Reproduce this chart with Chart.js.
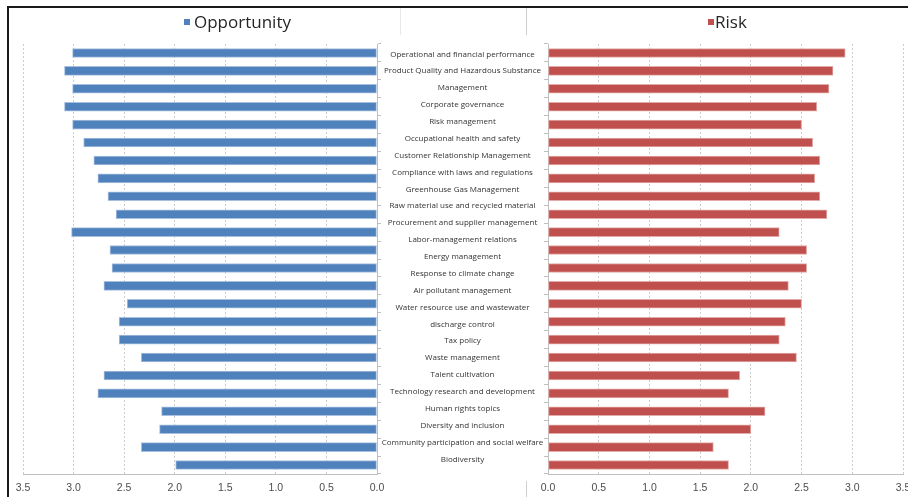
<!DOCTYPE html>
<html>
<head>
<meta charset="utf-8">
<script src="https://cdn.jsdelivr.net/npm/chart.js@4/dist/chart.umd.min.js"></script>
<style>
html,body{margin:0;padding:0;width:908px;height:497px;overflow:hidden;background:#fff;}
#wrap{position:relative;width:908px;height:497px;overflow:hidden;}
.abs{position:absolute;}
#cL{position:absolute;left:0;top:0;}
#cR{position:absolute;left:527px;top:0;}
.title{position:absolute;top:12px;font-family:"Open Sans","Noto Sans",sans-serif;font-size:17px;line-height:20px;color:#262626;white-space:nowrap;}
.sq{position:absolute;top:19px;width:6px;height:6px;}
#mid{position:absolute;left:380px;width:165px;top:45.6px;font-family:"Open Sans","Noto Sans",sans-serif;font-size:8px;color:#333;text-align:center;}
#mid div{height:16.875px;line-height:16.875px;white-space:nowrap;}
</style>
</head>
<body>
<div id="wrap">
  <div class="abs" style="left:7px;top:6px;width:901px;height:2px;background:#1a1a1a;"></div>
  <div class="abs" style="left:7px;top:6px;width:2px;height:491px;background:#1a1a1a;"></div>
  <div class="abs" style="left:400px;top:8px;width:1px;height:27px;background:#e8e8e8;"></div>
  <div class="abs" style="left:526px;top:8px;width:1px;height:27px;background:#cfcfcf;"></div>
  <div class="abs" style="left:526px;top:481px;width:1px;height:16px;background:#cfcfcf;"></div>
  <canvas id="cL" width="400" height="497"></canvas>
  <canvas id="cR" width="400" height="497"></canvas>
  <div class="sq" id="sqL" style="left:184px;"></div>
  <div class="title" id="tL" style="left:194px;"></div>
  <div class="sq" id="sqR" style="left:708px;"></div>
  <div class="title" id="tR" style="left:715px;"></div>
  <div id="mid"></div>
</div>
<script>
// ---- data ----
const seriesNames = ['Opportunity', 'Risk'];
const topics = [
  'Operational and financial performance',
  'Product Quality and Hazardous Substance\nManagement',
  'Corporate governance',
  'Risk management',
  'Occupational health and safety',
  'Customer Relationship Management',
  'Compliance with laws and regulations',
  'Greenhouse Gas Management',
  'Raw material use and recycled material',
  'Procurement and supplier management',
  'Labor-management relations',
  'Energy management',
  'Response to climate change',
  'Air pollutant management',
  'Water resource use and wastewater\ndischarge control',
  'Tax policy',
  'Waste management',
  'Talent cultivation',
  'Technology research and development',
  'Human rights topics',
  'Diversity and inclusion',
  'Community participation and social welfare',
  'Biodiversity'
];
const opportunity = [3.01, 3.09, 3.01, 3.09, 3.01, 2.90, 2.80, 2.76, 2.66, 2.58, 3.02, 2.64,
                     2.62, 2.70, 2.47, 2.55, 2.55, 2.33, 2.70, 2.76, 2.13, 2.15, 2.33, 1.99];
const risk = [2.93, 2.81, 2.77, 2.65, 2.50, 2.61, 2.68, 2.63, 2.68, 2.75, 2.28, 2.55,
              2.55, 2.37, 2.50, 2.34, 2.28, 2.45, 1.89, 1.78, 2.14, 2.00, 1.63, 1.78];
const barLabels = opportunity.map((_, i) => String(i + 1));
const axisMin = 0, axisMax = 3.5, axisStep = 0.5;

// ---- styles ----
const blue = '#4f81bd', blueEdge = '#a8c0df';
const red = '#c0504d', redEdge = '#e2aaa8';
const gridColor = '#cccccc', axisColor = '#bfbfbf';

document.getElementById('sqL').style.background = blue;
document.getElementById('sqR').style.background = red;
document.getElementById('tL').textContent = seriesNames[0];
document.getElementById('tR').textContent = seriesNames[1];

const mid = document.getElementById('mid');
topics.forEach(t => t.split('\n').forEach(line => {
  const d = document.createElement('div');
  d.textContent = line;
  mid.appendChild(d);
}));

function makeChart(id, values, color, edge, reverse) {
  return new Chart(document.getElementById(id), {
    type: 'bar',
    data: {
      labels: barLabels,
      datasets: [{
        data: values,
        backgroundColor: color,
        borderColor: edge,
        borderWidth: 1,
        borderSkipped: false,
        barThickness: 9
      }]
    },
    options: {
      indexAxis: 'y',
      responsive: false,
      animation: false,
      layout: { padding: reverse ? { left: 23, top: 44, right: 0, bottom: 0 }
                                 : { left: 0, top: 44, right: 24, bottom: 0 } },
      plugins: { legend: { display: false }, tooltip: { enabled: false } },
      scales: {
        x: {
          type: 'linear', min: axisMin, max: axisMax, reverse: reverse,
          afterFit(s) { s.height = 23; },
          ticks: {
            stepSize: axisStep, autoSkip: false, maxRotation: 0, padding: 8,
            callback: v => Number(v).toFixed(1),
            color: '#4d4d4d',
            font: { family: 'Liberation Sans', size: 10.5 }
          },
          grid: { color: gridColor, drawTicks: false, lineWidth: 1 },
          border: { display: true, color: axisColor, dash: [2, 2] }
        },
        y: {
          position: reverse ? 'right' : 'left',
          afterFit(s) { s.width = reverse ? 23 : 21; },
          ticks: { display: false },
          grid: { drawOnChartArea: false, drawTicks: true, tickLength: 4, color: axisColor, offset: true },
          border: { display: true, color: axisColor }
        }
      }
    }
  });
}
makeChart('cL', opportunity, blue, blueEdge, true);
makeChart('cR', risk, red, redEdge, false);
</script>
</body>
</html>
